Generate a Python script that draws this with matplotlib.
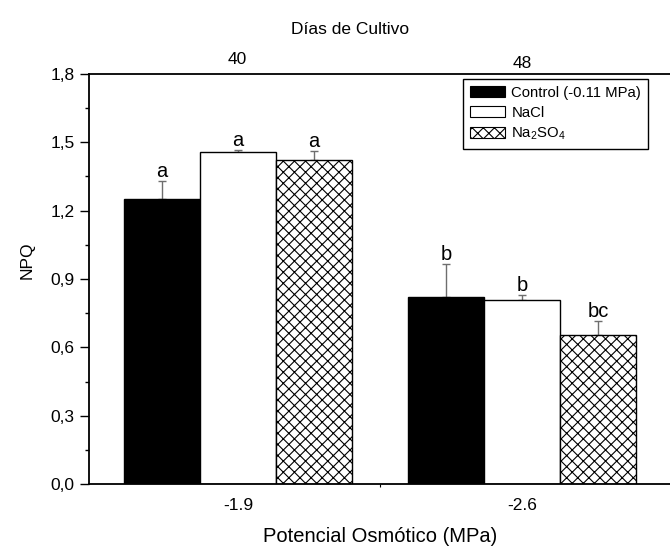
import matplotlib
matplotlib.use("Agg")
import matplotlib.pyplot as plt
import numpy as np
from matplotlib.patches import Patch
from matplotlib.ticker import MultipleLocator, FuncFormatter

plt.rcParams['font.family'] = ['Liberation Sans', 'DejaVu Sans']
plt.rcParams['hatch.linewidth'] = 0.8

potenciales = ["-1.9", "-2.6"]
dias = ["40", "48"]
tratamientos = ["Control (-0.11 MPa)", "NaCl", "Na$_\\mathregular{2}$SO$_\\mathregular{4}$"]
npq = {
    "Control": [1.25, 0.82],
    "NaCl": [1.456, 0.81],
    "Na2SO4": [1.421, 0.655],
}
error = {
    "Control": [0.08, 0.146],
    "NaCl": [0.01, 0.02],
    "Na2SO4": [0.04, 0.06],
}
letras = {
    "Control": ["a", "b"],
    "NaCl": ["a", "b"],
    "Na2SO4": ["a", "bc"],
}

estilos = [
    dict(color="black", hatch=None),
    dict(color="white", hatch=None),
    dict(color="white", hatch="xxx"),
]

fig = plt.figure(figsize=(6.7, 5.52), dpi=100)
ax = fig.add_axes([89 / 670, 68 / 552, (672 - 89) / 670, (484 - 74) / 552])

x = np.arange(len(potenciales))
ancho = 0.268
for i, (clave, est) in enumerate(zip(npq, estilos)):
    pos = x + (i - 1) * ancho
    ax.bar(pos, npq[clave], width=ancho, color=est["color"], edgecolor="black",
           linewidth=1.0, hatch=est["hatch"], zorder=2)
    ax.errorbar(pos, npq[clave], yerr=[np.zeros(2), error[clave]], fmt="none",
                ecolor="#6e6e6e", elinewidth=1.0, capsize=2.8, capthick=1.0, zorder=1)
    for p, v, e, l in zip(pos, npq[clave], error[clave], letras[clave]):
        ax.annotate(l, (p, v + e), xytext=(0, 0), textcoords="offset points",
                    ha="center", va="bottom", fontsize=14.5)

ax.set_xlim(-0.525, 1.528)
ax.set_ylim(0, 1.8)
ax.yaxis.set_major_locator(MultipleLocator(0.3))
ax.yaxis.set_minor_locator(MultipleLocator(0.15))
ax.yaxis.set_major_formatter(FuncFormatter(lambda v, _: f"{v:.1f}".replace(".", ",")))
ax.set_xticks(x)
ax.set_xticklabels(potenciales)
ax.set_xticks([0.5], minor=True)
ax.tick_params(axis="y", which="major", direction="out", length=6.5, width=1, pad=4,
               labelsize=12.5)
ax.tick_params(axis="y", which="minor", direction="out", length=3, width=1)
ax.tick_params(axis="x", which="major", length=0, labelsize=12.5, pad=10)
ax.tick_params(axis="x", which="minor", length=2, width=0.8)
for s in ax.spines.values():
    s.set_linewidth(1.3)

ax.set_ylabel("NPQ", fontsize=12.5)
ax.yaxis.set_label_coords(-0.093, 0.546)
ax.set_xlabel("Potencial Osmótico (MPa)", fontsize=14.5, labelpad=10)

# eje superior con los días de cultivo
fig.text(237 / 670, 1 - 60 / 552, dias[0], ha="center", va="center", fontsize=12.5)
fig.text(522 / 670, 1 - 64 / 552, dias[1], ha="center", va="center", fontsize=12.5)
fig.text(350 / 670, 1 - 29 / 552, "Días de Cultivo", ha="center", va="center", fontsize=12.5)

handles = [Patch(facecolor=est["color"], edgecolor="black", hatch=est["hatch"], linewidth=0.8)
           for est in estilos]
leg = fig.legend(handles, tratamientos, loc="upper left",
                 bbox_to_anchor=(463 / 670, 1 - 79 / 552), frameon=True, fancybox=False,
                 edgecolor="black", framealpha=1, fontsize=10.7, handlelength=2.4,
                 handleheight=0.75, handletextpad=0.4, labelspacing=0.4, borderpad=0.45,
                 borderaxespad=0)
leg.get_frame().set_linewidth(1.0)

fig.savefig("out.png", dpi=100)
